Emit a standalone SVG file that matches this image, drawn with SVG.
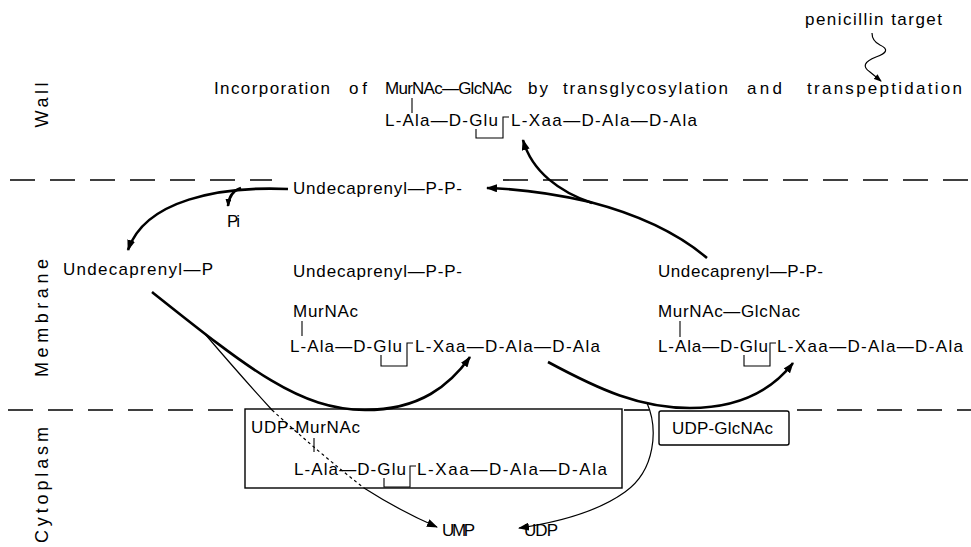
<svg xmlns="http://www.w3.org/2000/svg" width="971" height="547" viewBox="0 0 971 547">
  <style>
    text { font-family: "Liberation Sans", Arial, sans-serif; font-size: 17px; fill: #000; }
    .zone { font-size: 18px; }
    .lane { stroke: #000; stroke-width: 1.6; stroke-dasharray: 25 15; fill: none; }
    .thick { stroke: #000; stroke-width: 2.6; fill: none; }
    .thin { stroke: #000; stroke-width: 1.2; fill: none; }
    .dot { stroke: #000; stroke-width: 1.2; stroke-dasharray: 3 3; fill: none; }
    .bond { stroke: #000; stroke-width: 1.1; fill: none; }
    .box { stroke: #000; stroke-width: 1.4; fill: none; }
  </style>
  <defs>
    <marker id="ah" markerUnits="userSpaceOnUse" markerWidth="11" markerHeight="8" refX="10" refY="4" orient="auto">
      <path d="M0,0 L11,4 L0,8 z" fill="#000"/>
    </marker>
    <marker id="ahs" markerUnits="userSpaceOnUse" markerWidth="8" markerHeight="6" refX="7" refY="3" orient="auto">
      <path d="M0,0 L8,3 L0,6 z" fill="#000"/>
    </marker>
  </defs>

  <!-- compartment boundaries -->
  <g id="boundaries">
    <path class="lane" d="M10,180 H272"/>
    <path class="lane" d="M503,180 H971"/>
    <path class="lane" d="M8,410 H245"/>
    <path class="lane" d="M624,410 H652"/>
    <path class="lane" d="M797,410 H971"/>
  </g>

  <!-- compartment labels -->
  <g id="zone-labels">
    <text class="zone" transform="translate(48,105) rotate(-90)" text-anchor="middle" textLength="45" lengthAdjust="spacing">Wall</text>
    <text class="zone" transform="translate(48,318) rotate(-90)" text-anchor="middle" textLength="118" lengthAdjust="spacing">Membrane</text>
    <text class="zone" transform="translate(48,485) rotate(-90)" text-anchor="middle" textLength="116" lengthAdjust="spacing">Cytoplasm</text>
  </g>

  <!-- wall: incorporation step -->
  <g id="wall-incorporation">
    <text x="805" y="25" textLength="137" lengthAdjust="spacing">penicillin target</text>
    <text y="94">
      <tspan x="214" textLength="116" lengthAdjust="spacing">Incorporation</tspan>
      <tspan x="349" textLength="18" lengthAdjust="spacing">of</tspan>
      <tspan x="385" textLength="127" lengthAdjust="spacing">MurNAc—GlcNAc</tspan>
      <tspan x="528" textLength="20" lengthAdjust="spacing">by</tspan>
      <tspan x="563" textLength="165" lengthAdjust="spacing">transglycosylation</tspan>
      <tspan x="747" textLength="35" lengthAdjust="spacing">and</tspan>
      <tspan x="807" textLength="155" lengthAdjust="spacing">transpeptidation</tspan>
    </text>
    <path class="bond" d="M412,98 V113"/>
    <text x="385" y="126" textLength="113" lengthAdjust="spacing">L-Ala—D-Glu</text>
    <path class="bond" d="M476,129 V138 H503 V117 H509"/>
    <text x="511" y="126" textLength="186" lengthAdjust="spacing">L-Xaa—D-Ala—D-Ala</text>
  </g>

  <!-- membrane: lipid carrier -->
  <g id="undecaprenyl-pp">
    <text x="293" y="194" textLength="169" lengthAdjust="spacing">Undecaprenyl—P-P-</text>
  </g>
  <g id="pi">
    <text x="227" y="227" textLength="13" lengthAdjust="spacing">Pi</text>
  </g>
  <g id="undecaprenyl-p">
    <text x="63" y="275" textLength="150" lengthAdjust="spacing">Undecaprenyl—P</text>
  </g>

  <!-- membrane: lipid I -->
  <g id="lipid-one">
    <text x="293" y="277" textLength="169" lengthAdjust="spacing">Undecaprenyl—P-P-</text>
    <text x="293" y="317" textLength="65" lengthAdjust="spacing">MurNAc</text>
    <path class="bond" d="M302,321 V336"/>
    <text x="290" y="352" textLength="112" lengthAdjust="spacing">L-Ala—D-Glu</text>
    <path class="bond" d="M381,355 V366 H407 V343 H413"/>
    <text x="415" y="352" textLength="185" lengthAdjust="spacing">L-Xaa—D-Ala—D-Ala</text>
  </g>

  <!-- membrane: lipid II -->
  <g id="lipid-two">
    <text x="658" y="277" textLength="165" lengthAdjust="spacing">Undecaprenyl—P-P-</text>
    <text x="658" y="317" textLength="142" lengthAdjust="spacing">MurNAc—GlcNac</text>
    <path class="bond" d="M680,321 V337"/>
    <text x="658" y="352" textLength="110" lengthAdjust="spacing">L-Ala—D-Glu</text>
    <path class="bond" d="M744,355 V366 H770 V343 H776"/>
    <text x="777" y="352" textLength="186" lengthAdjust="spacing">L-Xaa—D-Ala—D-Ala</text>
  </g>

  <!-- cytoplasm: UDP-MurNAc pentapeptide -->
  <g id="udp-murnac">
    <rect class="box" x="245" y="409" width="377" height="79"/>
    <text x="251" y="433" textLength="109" lengthAdjust="spacing">UDP-MurNAc</text>
    <path class="bond" d="M314,438 V452"/>
    <text x="294" y="475" textLength="112" lengthAdjust="spacing">L-Ala—D-Glu</text>
    <path class="bond" d="M384,478 V487 H410 V466 H416"/>
    <text x="417" y="475" textLength="190" lengthAdjust="spacing">L-Xaa—D-Ala—D-Ala</text>
  </g>

  <!-- cytoplasm: UDP-GlcNAc -->
  <g id="udp-glcnac">
    <rect class="box" x="659" y="411" width="130" height="34" rx="2"/>
    <text x="672" y="434" textLength="101" lengthAdjust="spacing">UDP-GlcNAc</text>
  </g>

  <!-- cytoplasm: released nucleotides -->
  <g id="ump">
    <text x="442" y="536" textLength="33" lengthAdjust="spacing">UMP</text>
  </g>
  <g id="udp">
    <text x="524" y="536" textLength="34" lengthAdjust="spacing">UDP</text>
  </g>

  <!-- reaction arrows -->
  <g id="connectors">
    <!-- penicillin target pointer -->
    <path class="thin" d="M872,33 Q872,41 880,45 Q893,51 876,57 Q858,64 870,72 L881,81" marker-end="url(#ahs)"/>
    <!-- dephosphorylation of the carrier -->
    <path class="thick" d="M288,189 C220,186 145,200 128,250" marker-end="url(#ah)"/>
    <path class="thick" d="M241,188 Q229,192 228,206" marker-end="url(#ahs)"/>
    <!-- Undecaprenyl-P to lipid I -->
    <path class="thick" d="M152,292 C250,370 300,410 365,410 C420,410 450,385 470,357" marker-end="url(#ah)"/>
    <!-- UMP release -->
    <path class="thin" d="M205,334 Q240,375 272,410"/>
    <path class="dot" d="M272,410 Q318,452 364,488"/>
    <path class="thin" d="M364,488 Q400,511 437,527" marker-end="url(#ah)"/>
    <!-- lipid I to lipid II -->
    <path class="thick" d="M548,362 C600,390 640,408 690,408 C740,408 772,390 793,363" marker-end="url(#ah)"/>
    <!-- UDP release -->
    <path class="thin" d="M647,403 C658,428 656,470 625,492 C600,510 560,522 519,528" marker-end="url(#ah)"/>
    <!-- lipid II to wall and carrier recycling -->
    <path class="thick" d="M707,258 C680,235 640,215 590,202 C560,195 520,189 487,188" marker-end="url(#ah)"/>
    <path class="thick" d="M592,203 C560,192 532,172 523,140" marker-end="url(#ah)"/>
  </g>
</svg>
